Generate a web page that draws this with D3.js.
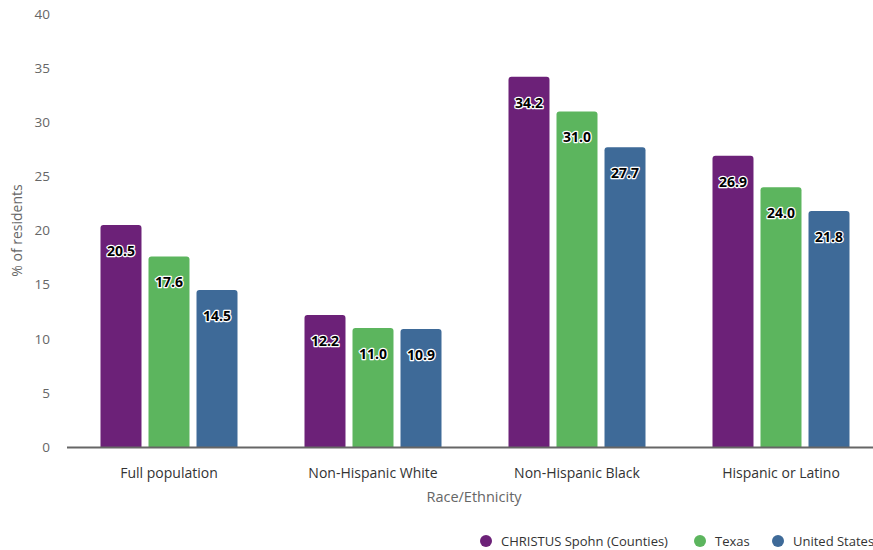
<!DOCTYPE html>
<html><head><meta charset="utf-8">
<script src="https://cdn.jsdelivr.net/npm/d3@7"></script>
<style>body{margin:0;background:#fff}svg{display:block;font-family:"Open Sans",sans-serif}</style>
</head><body>
<svg id="c" width="873" height="550"></svg>
<script>
const categories = ["Full population","Non-Hispanic White","Non-Hispanic Black","Hispanic or Latino"];
const seriesNames = ["CHRISTUS Spohn (Counties)","Texas","United States"];
const spohn = [20.5, 12.2, 34.2, 26.9];
const texas = [17.6, 11.0, 31.0, 24.0];
const us = [14.5, 10.9, 27.7, 21.8];
const yTicks = [0,5,10,15,20,25,30,35,40];
const colors = ["#6c2178","#5cb55e","#3e6a98"];

const values = [spohn, texas, us];
const svg = d3.select("#c");
const L = 67, R = 883, T = 14, B = 447;
const x0 = d3.scaleBand().domain(categories).range([L,R]).padding(0);
const x1 = d3.scaleBand().domain(seriesNames).range([33.5, x0.bandwidth()-33.5]).paddingInner(0.146);
const y = d3.scaleLinear().domain([0,40]).range([B,T]);

// y axis
const ya = svg.append("g").attr("transform",`translate(50,0)`)
  .call(d3.axisLeft(y).tickValues(yTicks).tickSize(0).tickPadding(0));
ya.select(".domain").remove();
ya.selectAll("text").attr("fill","#666").style("font-size","13.5px").style("font-family","Open Sans");

svg.append("text").attr("transform",`translate(22,${(T+B)/2}) rotate(-90)`)
  .attr("text-anchor","middle").attr("fill","#666").style("font-size","14px").text("% of residents");

function barPath(x,y0,w,h,r){
  r=Math.min(r,h,w/2);
  return `M${x},${y0+h}V${y0+r}Q${x},${y0} ${x+r},${y0}H${x+w-r}Q${x+w},${y0} ${x+w},${y0+r}V${y0+h}Z`;
}

const groups = svg.append("g");
categories.forEach((c,i)=>{
  seriesNames.forEach((s,j)=>{
    const v = values[j][i];
    const bx = x0(c)+x1(s), by = y(v), bw = x1.bandwidth(), bh = B - y(v);
    groups.append("path").attr("d",barPath(bx,by,bw,bh,3)).attr("fill",colors[j]);
    groups.append("text").attr("x",bx+bw/2).attr("y",by+31).attr("text-anchor","middle")
      .attr("fill","#000").attr("stroke","#fff").attr("stroke-width",2.5).attr("stroke-linejoin","round")
      .style("paint-order","stroke").style("font-size","14px").style("font-weight","bold")
      .text(v.toFixed(1));
  });
});

// x axis
svg.append("line").attr("x1",L).attr("x2",R).attr("y1",B+0.5).attr("y2",B+0.5).attr("stroke","#666").attr("stroke-width",2);
const xa = svg.append("g").attr("transform",`translate(0,${B})`)
  .call(d3.axisBottom(x0).tickSize(0).tickPadding(0));
xa.select(".domain").remove();
xa.selectAll("text").attr("y",31).attr("dy",0).attr("fill","#333").style("font-size","14px").style("font-family","Open Sans");

svg.append("text").attr("x",(L+R)/2-1).attr("y",502).attr("text-anchor","middle").attr("fill","#666")
  .style("font-size","14.5px").text("Race/Ethnicity");

// legend
const legX = [486, 700, 778];
seriesNames.forEach((s,j)=>{
  svg.append("circle").attr("cx",legX[j]).attr("cy",541).attr("r",6).attr("fill",colors[j]);
  svg.append("text").attr("x",legX[j]+15).attr("y",546).attr("fill","#333").style("font-size","13px").text(s);
});
</script>
</body></html>
